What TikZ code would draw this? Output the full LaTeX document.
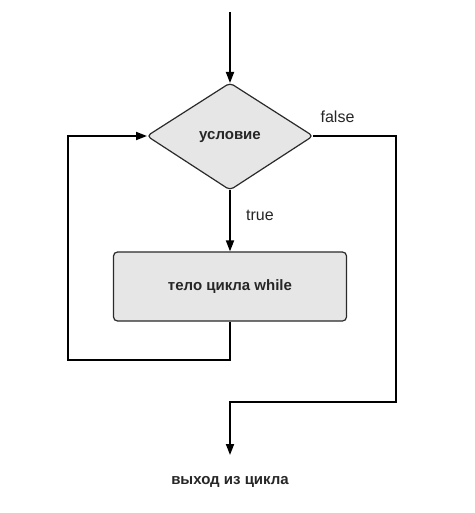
\documentclass[tikz,border=0pt]{standalone}
\usepackage{fontspec}
\setmainfont{Liberation Sans}
\usetikzlibrary{shapes.geometric,arrows.meta}
\definecolor{boxfill}{HTML}{E6E6E6}
\definecolor{boxline}{HTML}{2A2A2A}
\begin{document}
\begin{tikzpicture}[x=1pt,y=-1pt,
  conn/.style={line width=1.8pt,-{Triangle[width=8pt,length=11pt]}},
  lbl/.style={font=\fontsize{16}{18}\selectfont, text=black!85},
  blbl/.style={font=\bfseries\fontsize{15}{17}\selectfont, text=black!85}]
\useasboundingbox (0,0) rectangle (474,513);
\fill[white] (0,0) rectangle (474,513);
% diamond
\coordinate (dT) at (230,83);
\coordinate (dB) at (230,190);
\coordinate (dL) at (147,136);
\coordinate (dR) at (313,136);
\draw[fill=boxfill,draw=boxline,line width=1.2pt,rounded corners=4pt] (dT) -- (dR) -- (dB) -- (dL) -- cycle;
\node[blbl] (cond) at (230,137) {условие};
% body
\node[draw=boxline,fill=boxfill,line width=1.2pt,rounded corners=4pt,minimum width=233pt,minimum height=69pt,blbl] (body) at (230,286.5) {тело цикла while};
% top arrow
\coordinate (start) at (230,12);
\draw[conn] (start) -- (dT);
% true
\draw[conn] (dB) -- (body.north);
\node[lbl] (ttrue) at (260,215) {true};
% loop back
\coordinate (l1) at (230,360);
\coordinate (l2) at (68,360);
\coordinate (l3) at (68,136);
\draw[conn] (body.south) -- (l1) -- (l2) -- (l3) -- (dL);
% false
\node[lbl] (tfalse) at (337.5,117) {false};
\coordinate (r1) at (396,136);
\coordinate (r2) at (396,402);
\coordinate (r3) at (230,402);
\coordinate (r4) at (230,455);
\draw[conn] (dR) -- (r1) -- (r2) -- (r3) -- (r4);
\node[blbl] (exit) at (230,482) {выход из цикла};
\end{tikzpicture}
\end{document}
